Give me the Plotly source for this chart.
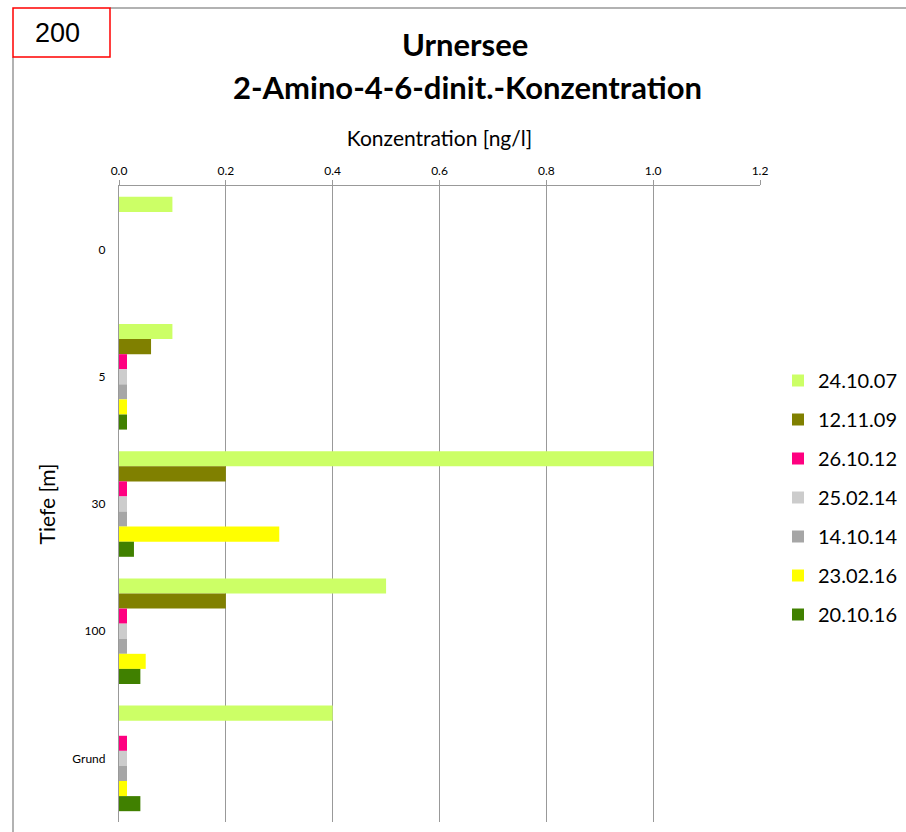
import plotly.graph_objects as go

# depth categories (top to bottom) and concentration per sampling date [ng/l]
depths = ["0", "5", "30", "100", "Grund"]
dates = ["24.10.07", "12.11.09", "26.10.12", "25.02.14", "14.10.14", "23.02.16", "20.10.16"]
colors = ["#CCFF66", "#808000", "#FF0080", "#CCCCCC", "#A6A6A6", "#FFFF00", "#408000"]

conc_241007 = [0.1, 0.1, 1.0, 0.5, 0.4]
conc_121109 = [None, 0.06, 0.2, 0.2, None]
conc_261012 = [None, 0.015, 0.015, 0.015, 0.015]
conc_250214 = [None, 0.015, 0.015, 0.015, 0.015]
conc_141014 = [None, 0.015, 0.015, 0.015, 0.015]
conc_230216 = [None, 0.015, 0.3, 0.05, 0.015]
conc_201016 = [None, 0.015, 0.028, 0.04, 0.04]

series = [conc_241007, conc_121109, conc_261012, conc_250214,
          conc_141014, conc_230216, conc_201016]

x_ticks = [0.0, 0.2, 0.4, 0.6, 0.8, 1.0, 1.2]

W, H = 906, 832
L, R, T, B = 119, 146, 186, 10
FONT = "Lato"


def px(x):
    return (x - L) / (W - L - R)


def py(y):
    return (H - B - y) / (H - T - B)


def label(text, x, y, size, family=FONT):
    return dict(text=text, x=px(x), y=py(y), xref="paper", yref="paper",
                xanchor="center", yanchor="middle", showarrow=False,
                font=dict(size=size, family=family))


fig = go.Figure()
for name, vals, col in zip(dates, series, colors):
    fig.add_trace(go.Bar(
        y=depths, x=vals, name=name, orientation="h",
        marker=dict(color=col, line=dict(width=0)),
        legendgroup=name,
    ))

fig.update_layout(
    width=W, height=H,
    margin=dict(l=L, r=R, t=T, b=B),
    paper_bgcolor="white", plot_bgcolor="white",
    barmode="group", bargap=0.17, bargroupgap=0,
    font=dict(family=FONT, color="#000"),
    legend=dict(
        xref="container", yref="container",
        x=778 / W, y=1 - 361 / H, xanchor="left", yanchor="top",
        font=dict(size=20, family=FONT), traceorder="grouped",
        tracegroupgap=10, itemwidth=30,
    ),
    annotations=[
        label("<b>Urnersee</b>", 465, 44, 31),
        label("<b>2-Amino-4-6-dinit.-Konzentration</b>", 467, 87, 31),
        label("200", 57, 33, 27, "Liberation Sans"),
    ],
    shapes=[
        dict(type="line", xref="paper", yref="paper", x0=px(110), x1=px(906),
             y0=py(8), y1=py(8), line=dict(color="#999", width=1.5)),
        dict(type="line", xref="paper", yref="paper", x0=px(13), x1=px(13),
             y0=py(57), y1=py(832), line=dict(color="#999", width=1.5)),
        dict(type="rect", xref="paper", yref="paper", x0=px(13), x1=px(110),
             y0=py(8), y1=py(57), line=dict(color="red", width=1.5)),
    ],
)

fig.update_xaxes(
    side="top", range=[0, 1.2], tickvals=x_ticks,
    ticktext=[f"{v:.1f}" for v in x_ticks],
    showgrid=True, gridcolor="#999", gridwidth=1.2,
    showline=True, linecolor="#999", linewidth=1.2,
    ticks="outside", ticklen=5, tickcolor="#999",
    tickfont=dict(size=12), zeroline=False,
    title=dict(text="Konzentration [ng/l]", font=dict(size=21), standoff=10),
)
fig.update_yaxes(
    autorange="reversed", showline=True, linecolor="#999", linewidth=1.2,
    ticks="", tickfont=dict(size=12), ticklabelstandoff=10,
    title=dict(text="Tiefe [m]", font=dict(size=21), standoff=10),
)

fig.write_html("out.html", config={"displayModeBar": False},
               post_script="document.body.style.margin='0';")
